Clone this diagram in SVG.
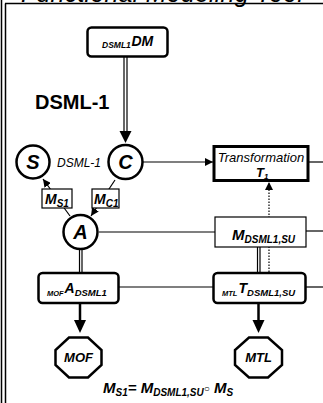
<svg xmlns="http://www.w3.org/2000/svg" width="323" height="403" viewBox="0 0 323 403">
  <defs>
    <marker id="arr" viewBox="0 0 10 10" refX="10" refY="5" markerWidth="8" markerHeight="8" markerUnits="userSpaceOnUse" orient="auto">
      <path d="M0,0 L10,5 L0,10 z" fill="#000"/>
    </marker>
    <style>
      text { font-family: "Liberation Sans", Arial, sans-serif; fill: #000; }
      .bi { font-weight: bold; font-style: italic; }
      .it { font-style: italic; }
      .node { fill: #fff; stroke: #000; stroke-width: 2.5; }
      .box { fill: #fff; stroke: #000; stroke-width: 1.2; }
      .circ { fill: #fff; stroke: #000; stroke-width: 2.5; }
      .line { stroke: #000; stroke-width: 1.2; fill: none; }
      .dot { stroke: #000; stroke-width: 1.2; stroke-dasharray: 1.5 1.5; fill: none; }
    </style>
  </defs>

  <!-- frame and title -->
  <g id="frame">
    <text x="21" y="1.5" class="it" font-size="25" textLength="282">Functional Modeling Tool</text>
    <line x1="1.5" y1="0" x2="1.5" y2="403" stroke="#000" stroke-width="1.5"/>
    <line x1="5.5" y1="3.5" x2="5.5" y2="403" stroke="#000" stroke-width="1.5"/>
    <line x1="5" y1="3.5" x2="323" y2="3.5" stroke="#000" stroke-width="1.5"/>
  </g>

  <!-- connectors -->
  <g id="connectors">
    <!-- DSML1DM to C (double line) -->
    <line x1="124" y1="57" x2="124" y2="134" class="line"/>
    <line x1="127" y1="57" x2="127" y2="134" class="line"/>
    <path d="M119.5,131 L131.5,131 L125.5,143 z" fill="#000"/>
    <!-- C to Transformation -->
    <line x1="143" y1="162" x2="213" y2="162" class="line" marker-end="url(#arr)"/>
    <line x1="308" y1="162" x2="323" y2="162" class="line"/>
    <!-- A to S via M_S1 -->
    <line x1="70" y1="216" x2="43" y2="179" class="line" marker-end="url(#arr)"/>
    <!-- C to A via M_C1 -->
    <line x1="115" y1="180" x2="91" y2="216" class="line" marker-end="url(#arr)"/>
    <!-- A to M_DSML1,SU -->
    <line x1="99" y1="232" x2="215" y2="232" class="line"/>
    <line x1="306" y1="231" x2="323" y2="231" class="line"/>
    <!-- dotted link into Transformation -->
    <line x1="269" y1="272" x2="269" y2="182" class="dot" marker-end="url(#arr)"/>
    <!-- A to MOF A DSML1 (double line) -->
    <line x1="79.5" y1="249" x2="79.5" y2="273" class="line"/>
    <line x1="82" y1="249" x2="82" y2="273" class="line"/>
    <!-- M_DSML1,SU to MTL T (double line) -->
    <line x1="257.5" y1="247" x2="257.5" y2="273" class="line"/>
    <line x1="260" y1="247" x2="260" y2="273" class="line"/>
    <!-- MOF A DSML1 to MTL T -->
    <line x1="119" y1="287" x2="213" y2="287" class="line"/>
    <line x1="306" y1="287" x2="323" y2="287" class="line"/>
    <!-- down arrows to MOF and MTL -->
    <line x1="80" y1="303" x2="80" y2="322" stroke="#000" stroke-width="2.5"/>
    <path d="M74,320 L86,320 L80,333 z" fill="#000"/>
    <line x1="258.5" y1="303" x2="258.5" y2="322" stroke="#000" stroke-width="2.5"/>
    <path d="M252.5,320 L264.5,320 L258.5,333 z" fill="#000"/>
  </g>

  <!-- DSML1DM -->
  <g id="dsml1dm">
    <rect x="87.5" y="27.5" width="80" height="29" rx="4" class="node"/>
    <text x="102" y="47.5" class="bi" font-size="8.5">DSML1</text>
    <text x="131.5" y="46" class="bi" font-size="14">DM</text>
  </g>

  <text id="dsml-label" x="35" y="109" font-size="20" font-weight="bold">DSML-1</text>

  <!-- S -->
  <g id="S">
    <circle cx="33" cy="162" r="16.5" class="circ"/>
    <text x="33" y="169" class="bi" font-size="20" text-anchor="middle">S</text>
  </g>
  <text id="dsml-sub" x="57" y="166.5" class="it" font-size="12">DSML-1</text>

  <!-- C -->
  <g id="C">
    <circle cx="125.5" cy="162" r="17" class="circ"/>
    <text x="125.5" y="169" class="bi" font-size="20" text-anchor="middle">C</text>
  </g>

  <!-- A -->
  <g id="A">
    <circle cx="80.5" cy="232" r="17" class="circ"/>
    <text x="80.5" y="239" class="bi" font-size="20" text-anchor="middle">A</text>
  </g>

  <!-- M_S1 -->
  <g id="ms1">
    <rect x="42" y="189" width="30" height="19" class="box"/>
    <text x="45" y="204" class="bi" font-size="14">M<tspan font-size="10" dy="3">S1</tspan></text>
  </g>

  <!-- M_C1 -->
  <g id="mc1">
    <rect x="92" y="189" width="27" height="19" class="box"/>
    <text x="94" y="204" class="bi" font-size="14">M<tspan font-size="10" dy="3">C1</tspan></text>
  </g>

  <!-- Transformation T1 -->
  <g id="transformation">
    <rect x="214" y="146.5" width="94" height="34" fill="#fff" stroke="#000" stroke-width="3"/>
    <text x="261" y="162" class="it" font-size="13" text-anchor="middle">Transformation</text>
    <text x="256" y="177" class="bi" font-size="13">T<tspan font-size="8" dy="2">1</tspan></text>
  </g>

  <!-- M_DSML1,SU -->
  <g id="mdsml1su">
    <rect x="215" y="217" width="91" height="30" class="box"/>
    <text x="232" y="240" class="bi" font-size="15">M<tspan font-size="10" dy="3">DSML1,SU</tspan></text>
  </g>

  <!-- MOF A DSML1 -->
  <g id="mofadsml1">
    <rect x="38.5" y="273" width="80" height="30" rx="4" class="node"/>
    <text x="47" y="295.5" class="bi" font-size="7.5">MOF</text>
    <text x="64.5" y="293" class="bi" font-size="14">A<tspan font-size="9.5" dy="3">DSML1</tspan></text>
  </g>

  <!-- MTL T DSML1,SU -->
  <g id="mtltdsml1su">
    <rect x="213.5" y="273" width="92" height="30" rx="4" class="node"/>
    <text x="222" y="295.5" class="bi" font-size="7.5">MTL</text>
    <text x="238.5" y="293" class="bi" font-size="14">T<tspan font-size="9.5" dy="3">DSML1,SU</tspan></text>
  </g>

  <!-- MOF -->
  <g id="mof">
    <polygon points="69,337.5 88,337.5 101.5,350 101.5,365 88,377.5 69,377.5 55.5,365 55.5,350" class="node"/>
    <text x="78.5" y="362" class="bi" font-size="13" text-anchor="middle">MOF</text>
  </g>

  <!-- MTL -->
  <g id="mtl">
    <polygon points="249,337.5 268,337.5 282,350 282,365 268,377.5 249,377.5 235,365 235,350" class="node"/>
    <text x="258.5" y="362" class="bi" font-size="13" text-anchor="middle">MTL</text>
  </g>

  <!-- composition formula -->
  <text id="formula" x="103" y="393" class="bi" font-size="15">M<tspan font-size="10" dy="3">S1</tspan><tspan dy="-3">= M</tspan><tspan font-size="10" dy="3">DSML1,SU</tspan><tspan font-size="10" font-weight="normal" font-style="normal" dy="-4">○</tspan><tspan dy="1"> M</tspan><tspan font-size="10" dy="3">S</tspan></text>
</svg>
